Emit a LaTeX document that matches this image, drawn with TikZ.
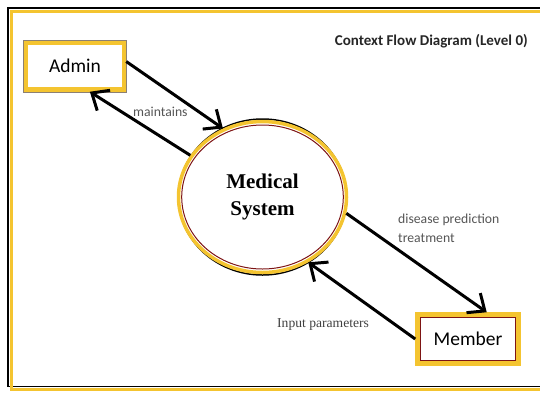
\documentclass[tikz,border=0pt]{standalone}
\usepackage{fontspec}
\setmainfont{Carlito}
\newfontfamily\timesfont{Liberation Serif}
\usetikzlibrary{shapes.geometric}
\usetikzlibrary{arrows.meta}
\usepackage{xcolor}
\definecolor{ringgold}{RGB}{244,196,48}
\definecolor{ringred}{RGB}{125,20,20}
\definecolor{labelgray}{RGB}{85,85,85}

\begin{document}
\begin{tikzpicture}[x=1pt,y=-1pt,
  entity/.style={draw=ringgold, line width=4.5pt, fill=white, inner sep=0pt, font=\fontsize{19.5}{22}\selectfont},
  flow/.style={line width=3pt, -{Straight Barb[length=14pt,width=24pt,line width=3pt]}},
  flowlabel/.style={text=labelgray, inner sep=0pt, font=\fontsize{13.7}{19}\selectfont}]
\useasboundingbox (0,0) rectangle (540,392);
% frame (runs off the right edge)
\draw[black, line width=1.2pt] (545,8) -- (8,8) -- (8,386.5) -- (545,386.5);
\draw[ringgold, line width=3pt] (545,11) -- (11.5,11) -- (11.5,389.5) -- (545,389.5);

\node[font=\bfseries\fontsize{15}{18}\selectfont, text=black!85, anchor=east, inner sep=0pt] (title) at (528,41) {Context Flow Diagram (Level 0)};

% external entities
\node[entity, minimum width=98pt, minimum height=47pt] (admin) at (75,66) {Admin};
\draw[gray!80!brown, line width=0.8pt] ([shift={(-0.3,-0.3)}]admin.north west) rectangle ([shift={(0.3,0.3)}]admin.south east);
\node[entity, minimum width=101pt, minimum height=49pt] (member) at (468,339) {Member};
\draw[ringred, line width=1pt] ([shift={(5.3,5.3)}]member.north west) rectangle ([shift={(-5.3,-5.3)}]member.south east);

% process
\draw[black, line width=1.5pt] (262.5,197) ellipse [x radius=84, y radius=78];
\node[ellipse, draw=ringgold, line width=3.5pt, minimum width=168pt, minimum height=151pt, inner sep=0pt, align=center, font=\timesfont\bfseries\fontsize{21}{27}\selectfont] (sys) at (262.5,197) {Medical\\System};
\draw[ringred, line width=1pt] (sys.center) ellipse [x radius=80.8, y radius=72];

% data flows
\draw[flow] (admin.5) -- (sys.120);
\draw[flow] (sys.150) -- (admin.-60);
\draw[flow] (sys.-11) -- (member.55);
\draw[flow] (member.west) -- (sys.-55);

\node[flowlabel, anchor=west] (maintlbl) at (133,112) {maintains};
\node[flowlabel, anchor=west, align=left] (predlbl) at (398,228.5) {disease prediction\\treatment};
\node[font=\timesfont\fontsize{13.6}{16}\selectfont, text=black!75, anchor=west, inner sep=0pt] (inputlbl) at (277,324) {Input parameters};
\end{tikzpicture}
\end{document}
